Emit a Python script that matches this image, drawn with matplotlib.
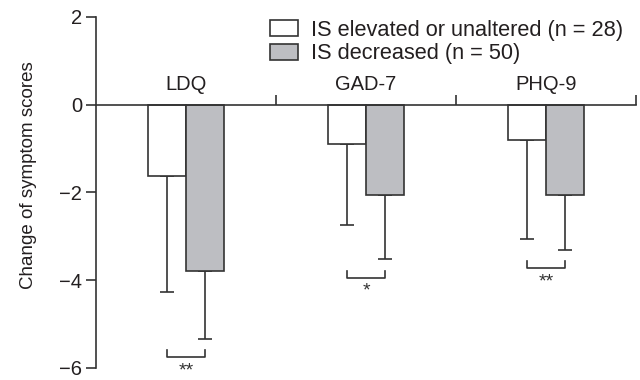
import matplotlib
matplotlib.use("Agg")
import matplotlib.pyplot as plt
import numpy as np

plt.rcParams['font.family'] = ['Liberation Sans', 'DejaVu Sans']

categories = ["LDQ", "GAD-7", "PHQ-9"]
series_names = ["IS elevated or unaltered (n = 28)", "IS decreased (n = 50)"]
elevated_mean = [-1.63, -0.89, -0.81]
elevated_sd = [2.63, 1.85, 2.24]
decreased_mean = [-3.80, -2.05, -2.05]
decreased_sd = [1.53, 1.46, 1.26]
sig_labels = ["**", "*", "**"]
sig_bracket_top = [-5.60, -3.78, -3.57]
sig_bracket_bottom = [-5.76, -3.95, -3.73]
y_ticks = [2, 0, -2, -4, -6]

edge = "#333333"
grey = "#BDBEC2"
txt = "#231F20"

fig = plt.figure(figsize=(6.4, 3.8), dpi=100)
ax = fig.add_axes([0.15, 0.0316, 0.84375, 0.9237])

x = np.arange(len(categories))
w = 0.211
xe = x - w / 2
xd = x + w / 2

ax.bar(xe, elevated_mean, width=w, color="white", edgecolor=edge, linewidth=1.2,
       label=series_names[0], zorder=2)
ax.bar(xd, decreased_mean, width=w, color=grey, edgecolor=edge, linewidth=1.2,
       label=series_names[1], zorder=2)

ax.errorbar(xe, elevated_mean, yerr=[elevated_sd, np.zeros(3)], fmt="none",
            ecolor=edge, elinewidth=1.2, capsize=5, capthick=1.2, zorder=1)
ax.errorbar(xd, decreased_mean, yerr=[decreased_sd, np.zeros(3)], fmt="none",
            ecolor=edge, elinewidth=1.2, capsize=5, capthick=1.2, zorder=1)

for i in range(len(categories)):
    t, b = sig_bracket_top[i], sig_bracket_bottom[i]
    ax.plot([xe[i], xe[i], xd[i], xd[i]], [t, b, b, t], color=edge, lw=1.2,
            clip_on=False)
    ax.text(x[i], b - 0.11, sig_labels[i], ha="center", va="top", fontsize=14,
            color=edge, clip_on=False)
    ax.text(x[i], 0.46, categories[i], ha="center", va="center", fontsize=14.5,
            color=txt)

ax.set_xlim(-0.5, 2.5)
ax.set_ylim(-6, 2)
ax.set_yticks(y_ticks)
ax.set_yticklabels([str(v).replace("-", "\u2212") for v in y_ticks])
ax.set_xticks([0.5, 1.5, 2.5])
ax.set_xticklabels([])
ax.tick_params(axis="x", direction="in", length=7, width=1.2, color=edge)
ax.tick_params(axis="y", direction="out", length=7, width=1.2, color=edge,
               labelsize=14.5, labelcolor=txt, pad=3)
ax.spines["top"].set_visible(False)
ax.spines["right"].set_visible(False)
ax.spines["bottom"].set_position(("data", 0))
ax.spines["bottom"].set_color(edge)
ax.spines["left"].set_color(edge)
ax.spines["bottom"].set_linewidth(1.2)
ax.spines["left"].set_linewidth(1.2)
ax.spines["bottom"].set_zorder(3)

ax.set_ylabel("Change of symptom scores", fontsize=13.5, color=txt)
ax.yaxis.set_label_coords(-0.11, 0.55)

leg = ax.legend(loc="upper left", bbox_to_anchor=(0.322, 0.992), frameon=False,
                fontsize=15.7, handlelength=1.28, handleheight=0.78,
                handletextpad=0.62, labelspacing=0.12, borderaxespad=0,
                borderpad=0)
for t in leg.get_texts():
    t.set_color(txt)

fig.savefig("out.png", dpi=100)
